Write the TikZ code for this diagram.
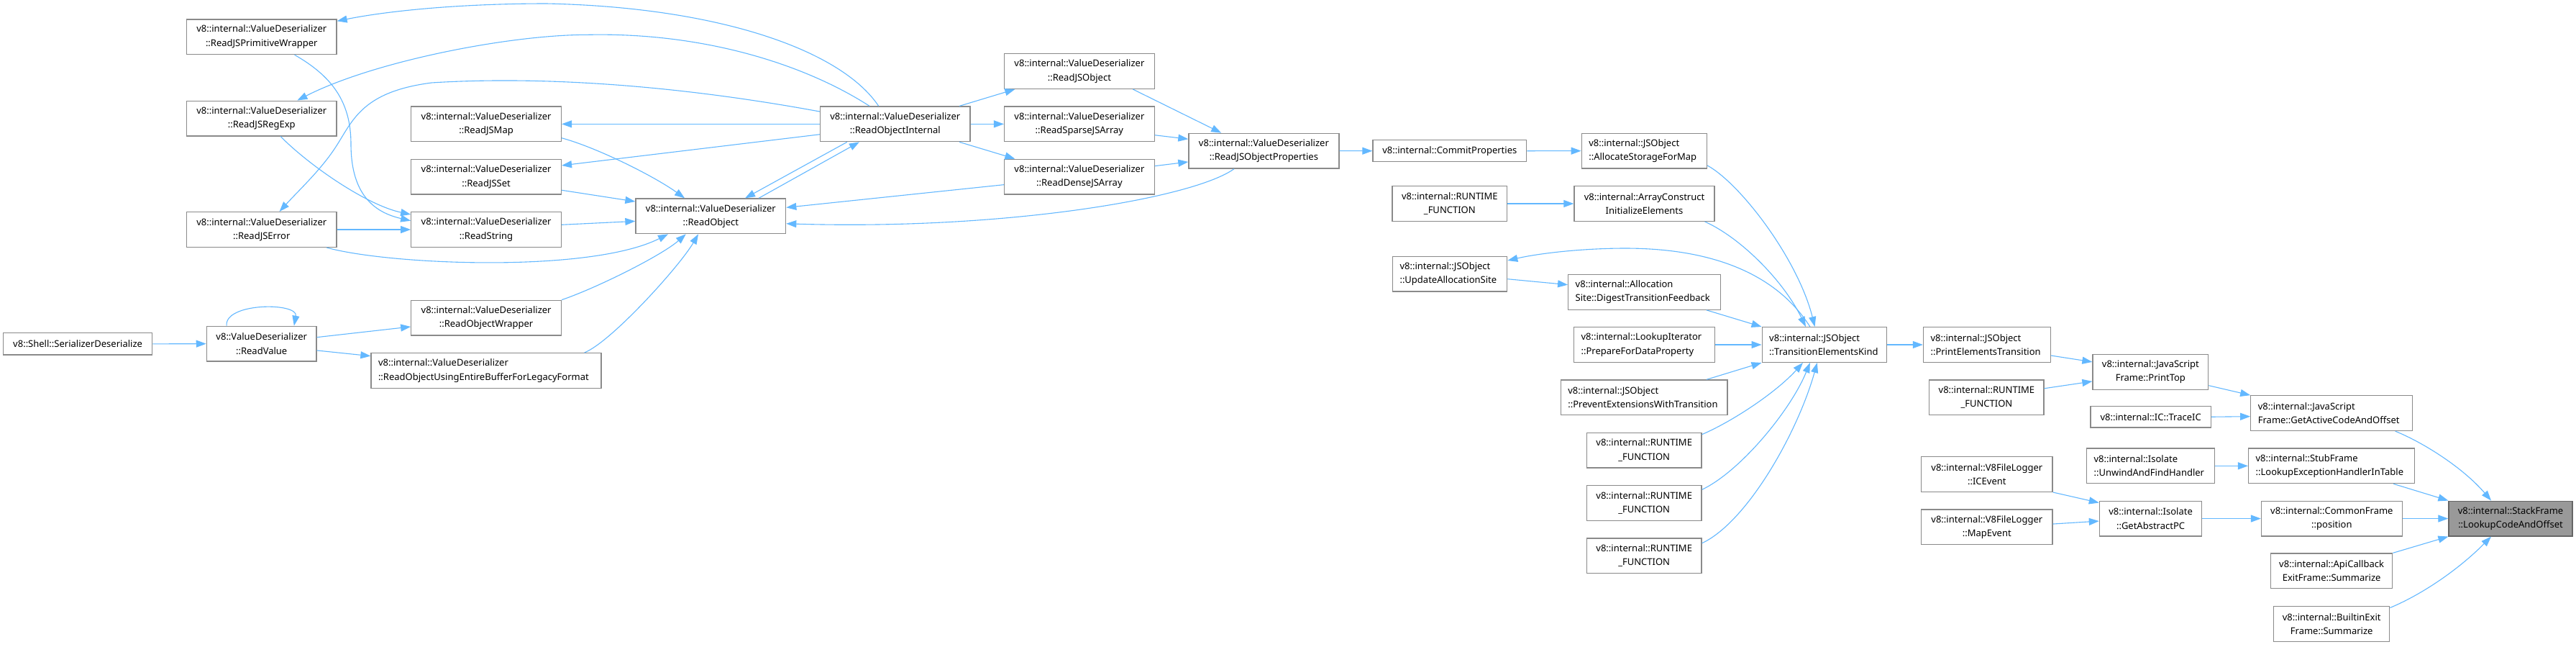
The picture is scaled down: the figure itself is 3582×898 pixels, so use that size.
\documentclass[tikz,border=0pt]{standalone}
\usepackage{fontspec}
\setmainfont{Noto Sans}
\usetikzlibrary{arrows.meta,calc}
\definecolor{edgec}{HTML}{63B8FF}
\definecolor{boxc}{HTML}{8A8A8A}
\definecolor{curc}{HTML}{999999}
\definecolor{curb}{HTML}{666666}
\begin{document}
\begin{tikzpicture}[x=1pt,y=-1pt,
  box/.style={draw=boxc, line width=1.3pt, fill=white, inner xsep=10pt, inner ysep=0pt,
    font=\fontsize{13}{19.3}\selectfont, text=black, minimum height=48.7pt},
  bc/.style={box, align=center, minimum width=#1pt, text width=#1pt-20pt},
  bl/.style={box, align=left, minimum width=#1pt, text width=#1pt-20pt},
  cur/.style={fill=curc, draw=curb},
  conn/.style={draw=edgec, line width=1.1pt, -{Triangle[length=14pt,width=10pt]}}]
\fill[white] (0,0) rectangle (3582,898);
\useasboundingbox (0,0) rectangle (3582,898);

% nodes
\node[bc=207, minimum height=30.3pt] (sd) at (108.1,477.85) {v8::Shell::SerializerDeserialize};
\node[bc=152.6] (rv) at (363.7,477.65) {v8::ValueDeserializer\\::ReadValue};
\node[bc=208.5] (pw) at (363.75,51.2) {v8::internal::ValueDeserializer\\::ReadJSPrimitiveWrapper};
\node[bc=208.5] (re) at (363.75,164.5) {v8::internal::ValueDeserializer\\::ReadJSRegExp};
\node[bc=208.5] (je) at (363.75,319) {v8::internal::ValueDeserializer\\::ReadJSError};
\node[bc=208.6] (jm) at (676.1,172.35) {v8::internal::ValueDeserializer\\::ReadJSMap};
\node[bc=208.6] (js) at (676.1,245.65) {v8::internal::ValueDeserializer\\::ReadJSSet};
\node[bc=208.6] (rs) at (676.1,319) {v8::internal::ValueDeserializer\\::ReadString};
\node[bc=208.6] (ow) at (676.1,441.65) {v8::internal::ValueDeserializer\\::ReadObjectWrapper};
\node[bl=320] (ou) at (676,515) {v8::internal::ValueDeserializer\\::ReadObjectUsingEntireBufferForLegacyFormat};
\node[bc=208.7] (ro) at (988.35,300.35) {v8::internal::ValueDeserializer\\::ReadObject};
\node[bc=208.4] (oi) at (1244.8,172.35) {v8::internal::ValueDeserializer\\::ReadObjectInternal};
\node[bc=208.6] (jo) at (1500.9,99) {v8::internal::ValueDeserializer\\::ReadJSObject};
\node[bc=208.6] (sa) at (1500.9,172.35) {v8::internal::ValueDeserializer\\::ReadSparseJSArray};
\node[bc=208.6] (da) at (1500.9,245.65) {v8::internal::ValueDeserializer\\::ReadDenseJSArray};
\node[bc=209] (op) at (1757.4,209.65) {v8::internal::ValueDeserializer\\::ReadJSObjectProperties};
\node[bc=213.6, minimum height=30pt] (cp) at (2015.8,209.7) {v8::internal::CommitProperties};
\node[bl=174.2] (as) at (2286.4,209.65) {v8::internal::JSObject\\::AllocateStorageForMap};
\node[bc=159.7] (rf0) at (2015.85,283) {v8::internal::RUNTIME\\\_FUNCTION};
\node[bc=195] (ac) at (2286.5,283) {v8::internal::ArrayConstruct\\InitializeElements};
\node[bl=159.2] (ua) at (2016.1,380.5) {v8::internal::JSObject\\::UpdateAllocationSite};
\node[bl=211.5] (dt) at (2286.45,405.85) {v8::internal::Allocation\\Site::DigestTransitionFeedback};
\node[bl=195.7] (li) at (2286.45,479) {v8::internal::LookupIterator\\::PrepareForDataProperty};
\node[bl=231.7] (pe) at (2286.15,552.35) {v8::internal::JSObject\\::PreventExtensionsWithTransition};
\node[bc=159.6] (rf1) at (2286.2,625.65) {v8::internal::RUNTIME\\\_FUNCTION};
\node[bc=159.6] (rf2) at (2286.2,699) {v8::internal::RUNTIME\\\_FUNCTION};
\node[bc=159.6] (rf3) at (2286.2,772.35) {v8::internal::RUNTIME\\\_FUNCTION};
\node[bl=173.3] (tek) at (2536.85,479) {v8::internal::JSObject\\::TransitionElementsKind};
\node[bl=176.7] (pet) at (2762.85,479) {v8::internal::JSObject\\::PrintElementsTransition};
\node[bc=159.2] (rf4) at (2762.4,552.35) {v8::internal::RUNTIME\\\_FUNCTION};
\node[bc=182.4] (ice) at (2762.8,659) {v8::internal::V8FileLogger\\::ICEvent};
\node[bc=182.4] (mpe) at (2762.8,732.35) {v8::internal::V8FileLogger\\::MapEvent};
\node[bc=160.7] (pt) at (2990.35,516.9) {v8::internal::JavaScript\\Frame::PrintTop};
\node[bl=224.7] (ga) at (3242.15,574.15) {v8::internal::JavaScript\\Frame::GetActiveCodeAndOffset};
\node[bc=167.4, minimum height=29.3pt] (tic) at (2990.6,579.25) {v8::internal::IC::TraceIC};
\node[bl=177.7] (uf) at (2990.35,647.35) {v8::internal::Isolate\\::UnwindAndFindHandler};
\node[bl=231] (lx) at (3242.1,647.35) {v8::internal::StubFrame\\::LookupExceptionHandlerInTable};
\node[bc=142.3] (gp) at (2990.55,720.55) {v8::internal::Isolate\\::GetAbstractPC};
\node[bc=195.7] (pos) at (3242.35,720.55) {v8::internal::CommonFrame\\::position};
\node[bc=172, cur] (sf) at (3491,720.55) {v8::internal::StackFrame\\::LookupCodeAndOffset};
\node[bc=169.2] (api) at (3242.1,793.35) {v8::internal::ApiCallback\\ExitFrame::Summarize};
\node[bc=161.1] (bx) at (3242.15,867) {v8::internal::BuiltinExit\\Frame::Summarize};

% connectors
\draw[conn] (sd.east) -- (rv.west);
\draw[conn] ($(rv.north west)+(28.3,0)$) .. controls (312,420) and (415,420) .. ($(rv.north west)+(122.1,0)$);
\draw[conn] ($(rv.east)+(0,-9)$) -- ($(ow.west)+(0,12.3)$);
\draw[conn] ($(rv.east)+(0,9.3)$) -- ($(ou.west)+(0,-20.3)$);
\draw[conn] (ow.north east) .. controls (830,400) and (920,355) .. ($(ro.south)+(-34.6,0)$);
\draw[conn] ($(ou.north east)+(-24,0)$) .. controls (850,475) and (945,370) .. ($(ro.south)+(-17.3,0)$);
\draw[conn] ($(je.south east)+(-14.5,0)$) .. controls (540,368) and (820,380) .. ($(ro.south)+(-59.3,0)$);
\draw[conn] (je.east) -- (rs.west);
\draw[conn] ($(re.south)+(26.3,0)$) .. controls (430,230) and (510,285) .. ($(rs.west)+(0,-21)$);
\draw[conn] ($(pw.south)+(45.8,0)$) .. controls (460,105) and (488,140) .. (488,200) .. controls (488,270) and (520,295) .. ($(rs.west)+(0,-12.3)$);
\draw[conn] ($(rs.east)+(0,-6.7)$) -- ($(ro.west)+(0,7)$);
\draw[conn] ($(js.east)+(0,18.6)$) -- ($(ro.west)+(0,-20.3)$);
\draw[conn] ($(jm.east)+(0,19.4)$) .. controls (830,205) and (910,245) .. ($(ro.north)+(-36.3,0)$);
\draw[conn] ($(oi.south west)+(37.9,0)$) -- ($(ro.north)+(47.7,0)$);
\draw[conn] ($(ro.north)+(66.7,0)$) -- ($(oi.south west)+(55,0)$);
\draw[conn] (oi.west) -- (jm.east);
\draw[conn] ($(oi.west)+(0,14.4)$) -- ($(js.east)+(0,-15.7)$);
\draw[conn] ($(oi.north)+(-23.1,0)$) .. controls (1170,70) and (1000,10) .. (760,5) .. controls (640,5) and (540,15) .. ($(pw.east)+(0,-21.9)$);
\draw[conn] ($(oi.north)+(-35.8,0)$) .. controls (1120,90) and (980,45) .. (818,48.3) .. controls (710,48) and (520,85) .. ($(re.north)+(49.6,0)$);
\draw[conn] ($(oi.west)+(0,-17.3)$) .. controls (950,120) and (760,105) .. (600,115) .. controls (500,128) and (490,170) .. (465,207) .. controls (445,237) and (415,265) .. ($(je.north)+(24.8,0)$);
\draw[conn] ($(oi.north east)+(-15.6,0)$) -- ($(jo.south west)+(15.4,0)$);
\draw[conn] (oi.east) -- (sa.west);
\draw[conn] ($(oi.south east)+(-15.6,0)$) -- ($(da.north west)+(15.4,0)$);
\draw[conn] ($(jo.south east)+(-30.6,0)$) -- ($(op.north west)+(46,0)$);
\draw[conn] ($(sa.east)+(0,15.4)$) -- ($(op.west)+(0,-16.4)$);
\draw[conn] ($(da.east)+(0,-15)$) -- ($(op.west)+(0,15.3)$);
\draw[conn] ($(da.west)+(0,11)$) -- ($(ro.east)+(0,-12)$);
\draw[conn] ($(op.south)+(-41.4,0)$) .. controls (1660,275) and (1400,320) .. ($(ro.east)+(0,10.4)$);
\draw[conn] (op.east) -- (cp.west);
\draw[conn] (cp.east) -- (as.west);
\draw[conn] ($(as.east)+(0,20.3)$) .. controls (2420,255) and (2500,360) .. ($(tek.north)+(-13.3,0)$);
\draw[conn] ($(ac.south east)+(-14,0)$) .. controls (2420,330) and (2480,390) .. ($(tek.north)+(-25.9,0)$);
\draw[conn] ($(tek.north)+(-20,0)$) .. controls (2470,380) and (2380,345) .. (2260,345) .. controls (2200,345) and (2140,352) .. ($(ua.east)+(0,-18.5)$);
\draw[conn] ($(ua.east)+(0,7.2)$) -- ($(dt.west)+(0,-10.2)$);
\draw[conn] ($(dt.south east)+(-20,0)$) -- (tek.north west);
\draw[conn] (li.east) -- (tek.west);
\draw[conn] ($(pe.north east)+(-29.7,0)$) -- (tek.south west);
\draw[conn] ($(rf1.east)+(0,-22)$) .. controls (2410,585) and (2470,545) .. ($(tek.south)+(-29.9,0)$);
\draw[conn] ($(rf2.east)+(0,-18.7)$) .. controls (2420,655) and (2490,570) .. ($(tek.south)+(-20,0)$);
\draw[conn] ($(rf3.east)+(0,-17.6)$) .. controls (2430,725) and (2500,600) .. ($(tek.south)+(-10,0)$);
\draw[conn] (rf0.east) -- (ac.west);
\draw[conn] (tek.east) -- (pet.west);
\draw[conn] ($(pet.east)+(0,15)$) -- ($(pt.west)+(0,-14)$);
\draw[conn] ($(rf4.east)+(0,-12.6)$) -- ($(pt.west)+(0,13)$);
\draw[conn] ($(pt.east)+(0,18.8)$) -- (ga.north west);
\draw[conn] (tic.east) -- ($(ga.west)+(0,4.5)$);
\draw[conn] ($(ga.south east)+(-24.5,0)$) .. controls (3370,615) and (3425,650) .. ($(sf.north)+(-27,0)$);
\draw[conn] (uf.east) -- (lx.west);
\draw[conn] ($(lx.south east)+(-30,0)$) -- (sf.north west);
\draw[conn] (ice.south east) -- ($(gp.north west)+(0,3)$);
\draw[conn] ($(mpe.east)+(0,-4.3)$) -- ($(gp.west)+(0,3.5)$);
\draw[conn] (gp.east) -- (pos.west);
\draw[conn] (pos.east) -- (sf.west);
\draw[conn] (api.north east) -- (sf.south west);
\draw[conn] ($(bx.east)+(0,-22.5)$) .. controls (3370,825) and (3420,790) .. ($(sf.south)+(-27,0)$);
\end{tikzpicture}
\end{document}
